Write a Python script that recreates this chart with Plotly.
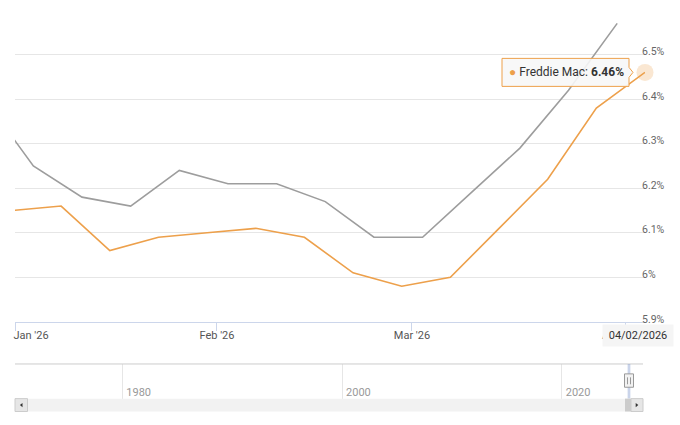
import plotly.graph_objects as go
from datetime import datetime

# ---------------- data ----------------
fm_dates = ["2026-01-01", "2026-01-08", "2026-01-15", "2026-01-22", "2026-01-29",
            "2026-02-05", "2026-02-12", "2026-02-19", "2026-02-26", "2026-03-05",
            "2026-03-12", "2026-03-19", "2026-03-26", "2026-04-02"]
fm_rates = [6.15, 6.16, 6.06, 6.09, 6.10, 6.11, 6.09, 6.01, 5.98, 6.00,
            6.11, 6.22, 6.38, 6.46]

other_dates = ["2025-12-28", "2026-01-04", "2026-01-11", "2026-01-18", "2026-01-25",
               "2026-02-01", "2026-02-08", "2026-02-15", "2026-02-22", "2026-03-01",
               "2026-03-08", "2026-03-15", "2026-03-22", "2026-03-29"]
other_rates = [6.40, 6.25, 6.18, 6.16, 6.24, 6.21, 6.21, 6.17, 6.09, 6.09,
               6.19, 6.29, 6.42, 6.57]

y_ticks = [5.9, 6.0, 6.1, 6.2, 6.3, 6.4, 6.5, 6.6]
y_tick_text = ["5.9%", "6%", "6.1%", "6.2%", "6.3%", "6.4%", "6.5%", ""]
x_tick_text = ["Jan '26", "Feb '26", "Mar '26", "Apr '26"]
nav_years = [1980, 2000, 2020]
nav_year_text = ["1980", "2000", "2020"]

# ---------------- layout constants (window pixels) ----------------
W, H = 680, 425
PL, PR, PT, PB = 15, 645, 10, 416
ML, MR, MT, MB = PL, W - PR, PT, H - PB
PW, PH = PR - PL, PB - PT

def px(x):
    return (x - PL) / PW

def py(y):
    return (PB - y) / PH

ORANGE = "#eda04b"
GRAY = "#9d9d9d"
FONT = "Roboto"

x_range = ["2026-01-01 08:40", "2026-04-02"]
x_label_pos = ["2026-01-03 16:00", "2026-01-30 10:00", "2026-02-27 11:20", "2026-03-29 06:00"]
x_mark_pos = ["2026-01-01 09:00", "2026-01-30 10:00", "2026-02-27 11:20", "2026-03-30 06:00"]

def dec_year(s):
    d = datetime.fromisoformat(s)
    start = datetime(d.year, 1, 1)
    end = datetime(d.year + 1, 1, 1)
    return d.year + (d - start).total_seconds() / (end - start).total_seconds()

fig = go.Figure()

fig.add_trace(go.Scatter(x=other_dates, y=other_rates, mode="lines",
                         name="Mortgage News Daily",
                         line=dict(color=GRAY, width=1.6), hoverinfo="skip"))
fig.add_trace(go.Scatter(x=fm_dates, y=fm_rates, mode="lines", name="Freddie Mac",
                         line=dict(color=ORANGE, width=1.6), hoverinfo="skip"))
fig.add_trace(go.Scatter(x=[fm_dates[-1]], y=[fm_rates[-1]], mode="markers",
                         marker=dict(size=17, color="rgba(237,160,75,0.25)"),
                         cliponaxis=False, hoverinfo="skip", showlegend=False))
fig.add_trace(go.Scatter(x=[], y=[], xaxis="x2", yaxis="y2", showlegend=False))

main_bottom = py(325)
nav_bot, nav_top = py(402.5), py(367.5)

fig.update_layout(
    width=W, height=H,
    margin=dict(l=ML, r=MR, t=MT, b=MB, pad=0),
    paper_bgcolor="white", plot_bgcolor="white",
    showlegend=False, hovermode=False, dragmode=False,
    font=dict(family=FONT, size=11, color="#666666"),
    xaxis=dict(
        domain=[0, 1], anchor="y", type="date", range=x_range,
        tickmode="array", tickvals=x_label_pos, ticktext=x_tick_text,
        ticks="", showgrid=False, zeroline=False,
        showline=True, linecolor="#ccd6eb", linewidth=1,
        tickfont=dict(family=FONT, size=11, color="#555555"),
        ticklabelstandoff=3,
        minor=dict(tickmode="array", tickvals=x_mark_pos, ticks="outside",
                   ticklen=8, tickcolor="#ccd6eb", tickwidth=1, showgrid=False),
    ),
    yaxis=dict(
        domain=[main_bottom, 1], anchor="x", range=[5.9, 6.6], side="right",
        tickmode="array", tickvals=y_ticks, ticktext=y_tick_text,
        ticks="", showgrid=True, gridcolor="#e6e6e6", gridwidth=1,
        zeroline=False, showline=False,
        tickfont=dict(family=FONT, size=10.5, color="#666666"),
        ticklabelstandoff=-4, ticklabelshift=-3,
    ),
    xaxis2=dict(
        domain=[0, px(643)], anchor="y2", range=[1970.23, 2027.40],
        tickmode="array", tickvals=nav_years, ticktext=nav_year_text,
        ticks="", showgrid=True, gridcolor="#e6e6e6", gridwidth=1,
        zeroline=False, showline=False, ticklabelposition="inside right",
        ticklabelstandoff=-6, ticklabelshift=4,
        tickfont=dict(family=FONT, size=11, color="#999999"),
    ),
    yaxis2=dict(domain=[nav_bot, nav_top], anchor="x2", range=[0, 1],
                showgrid=False, zeroline=False, showticklabels=False, ticks=""),
)

shapes = []
shapes.append(dict(type="line", xref="paper", yref="paper", x0=0, x1=px(643),
                   y0=nav_top, y1=nav_top, line=dict(color="#cccccc", width=1)))
sel0, sel1 = dec_year(x_range[0]), dec_year(fm_dates[-1])
shapes.append(dict(type="rect", xref="x2", yref="paper", x0=sel0, x1=sel1,
                   y0=nav_bot, y1=nav_top, fillcolor="rgba(102,133,194,0.35)",
                   line=dict(width=0)))
shapes.append(dict(type="rect", xref="paper", yref="paper", x0=px(15), x1=px(643),
                   y0=py(415.5), y1=py(402.5), fillcolor="#f2f2f2", line=dict(width=0)))
shapes.append(dict(type="rect", xref="paper", yref="paper", x0=px(15), x1=px(27.5),
                   y0=py(415.5), y1=py(402.5), fillcolor="#e6e6e6",
                   line=dict(color="#cccccc", width=1)))
shapes.append(dict(type="rect", xref="paper", yref="paper", x0=px(625), x1=px(631),
                   y0=py(415.5), y1=py(402.5), fillcolor="#cccccc", line=dict(width=0)))
shapes.append(dict(type="rect", xref="paper", yref="paper", x0=px(631), x1=px(643),
                   y0=py(415.5), y1=py(402.5), fillcolor="#e6e6e6",
                   line=dict(color="#cccccc", width=1)))

def tri(cx, cy, direction):
    if direction < 0:
        pts = [(cx + 1.3, cy - 2.2), (cx - 1.3, cy), (cx + 1.3, cy + 2.2)]
    else:
        pts = [(cx - 1.3, cy - 2.2), (cx + 1.3, cy), (cx - 1.3, cy + 2.2)]
    p = "M " + " L ".join(f"{px(a):.5f},{py(b):.5f}" for a, b in pts) + " Z"
    return dict(type="path", xref="paper", yref="paper", path=p,
                fillcolor="#333333", line=dict(width=0))

shapes.append(tri(21.2, 409, -1))
shapes.append(tri(637, 409, 1))

mid = (sel0 + sel1) / 2
shapes.append(dict(type="rect", xref="x2", yref="paper", xsizemode="pixel", xanchor=mid,
                   x0=-4.5, x1=4.5, y0=py(391), y1=py(377.5), fillcolor="#f2f2f2",
                   line=dict(color="#999999", width=1)))
for dx in (-1.5, 1.5):
    shapes.append(dict(type="line", xref="x2", yref="paper", xsizemode="pixel", xanchor=mid,
                       x0=dx, x1=dx, y0=py(388), y1=py(381), line=dict(color="#999999", width=1)))

tip_path = "M -143,14 L -16,14 L -16,5 L -12,0 L -16,-5 L -16,-14 L -143,-14 Z"
shapes.append(dict(type="path", xref="x", yref="y", xsizemode="pixel", ysizemode="pixel",
                   xanchor=fm_dates[-1], yanchor=fm_rates[-1], path=tip_path,
                   fillcolor="rgba(247,247,247,0.9)", line=dict(color=ORANGE, width=1),
                   layer="above"))

fig.update_layout(shapes=shapes)

last_date = datetime.fromisoformat(fm_dates[-1])
fig.add_annotation(x=fm_dates[-1], y=fm_rates[-1], xref="x", yref="y",
                   xanchor="center", yanchor="middle", xshift=-79, yshift=0,
                   showarrow=False,
                   text=(f"<span style='color:{ORANGE}'>●</span> Freddie Mac: "
                         f"<b>{fm_rates[-1]:.2f}%</b>"),
                   font=dict(family=FONT, size=12, color="#333333"))
fig.add_annotation(x=px(637.5), y=py(338.5), xref="paper", yref="paper",
                   xanchor="center", yanchor="middle", showarrow=False,
                   text=last_date.strftime("%m/%d/%Y"),
                   bgcolor="#f5f5f5", borderpad=4, width=62,
                   font=dict(family=FONT, size=11, color="#333333"))

fig.write_html(
    "out.html",
    config={"displayModeBar": False, "staticPlot": True},
    post_script="document.body.style.margin='0';document.body.style.overflow='hidden';"
                "document.documentElement.style.overflow='hidden';",
)
